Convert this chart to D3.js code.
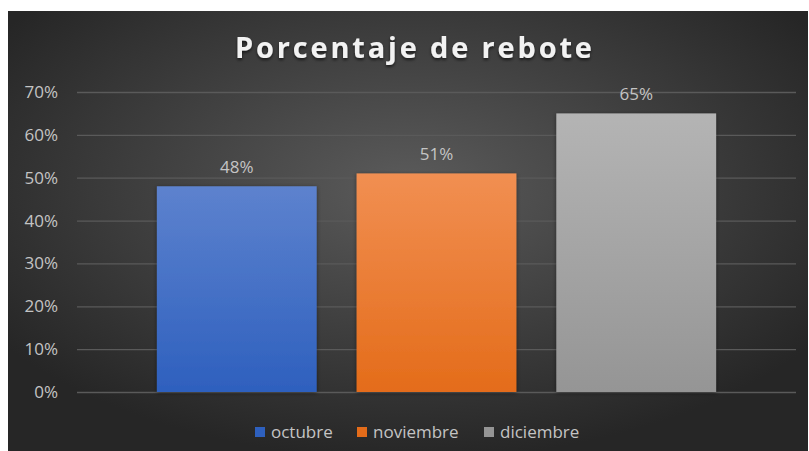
<!DOCTYPE html>
<html lang="es">
<head>
    <meta charset="UTF-8">
    <title>Porcentaje de rebote</title>
    <script src="https://d3js.org/d3.v7.min.js"></script>
    <style>
        html, body { margin: 0; padding: 0; background: #ffffff; }
        svg { display: block; }
    </style>
</head>
<body>
    <div id="chart"></div>
    <script>
        // Data
        const months = ["octubre", "noviembre", "diciembre"];
        const rates = [0.48, 0.51, 0.65];
        const yTicks = [0, 0.1, 0.2, 0.3, 0.4, 0.5, 0.6, 0.7];

        const width = 809;
        const height = 451;
        const frame = { x: 8, y: 11, w: 800, h: 440 };
        const plot = { left: 77, right: 796, top: 92, bottom: 392 };
        const font = "'Open Sans', 'DejaVu Sans', sans-serif";

        const svg = d3.select("#chart").append("svg")
            .attr("width", width)
            .attr("height", height);

        const defs = svg.append("defs");

        // background radial gradient
        const bg = defs.append("radialGradient")
            .attr("id", "bg")
            .attr("cx", "50%").attr("cy", "40%").attr("r", "62%");
        bg.append("stop").attr("offset", "0%").attr("stop-color", "#5b5b5b");
        bg.append("stop").attr("offset", "100%").attr("stop-color", "#262626");

        // bar fills, lighter at the top
        const fills = [
            { id: "g0", top: "#5d82ce", bottom: "#2e60be" },
            { id: "g1", top: "#f18f52", bottom: "#e46c1a" },
            { id: "g2", top: "#b4b4b4", bottom: "#959595" }
        ];
        fills.forEach(f => {
            const g = defs.append("linearGradient")
                .attr("id", f.id)
                .attr("x1", 0).attr("y1", 0).attr("x2", 0).attr("y2", 1);
            g.append("stop").attr("offset", "0%").attr("stop-color", f.top);
            g.append("stop").attr("offset", "100%").attr("stop-color", f.bottom);
        });

        const shadow = defs.append("filter").attr("id", "shadow")
            .attr("x", "-10%").attr("y", "-10%").attr("width", "120%").attr("height", "120%");
        shadow.append("feDropShadow")
            .attr("dx", 0).attr("dy", 1).attr("stdDeviation", 2)
            .attr("flood-color", "#000").attr("flood-opacity", 0.45);

        const titleShadow = defs.append("filter").attr("id", "tshadow")
            .attr("x", "-5%").attr("y", "-20%").attr("width", "110%").attr("height", "150%");
        titleShadow.append("feDropShadow")
            .attr("dx", 0).attr("dy", 2).attr("stdDeviation", 1.5)
            .attr("flood-color", "#000").attr("flood-opacity", 0.6);

        svg.append("rect")
            .attr("x", frame.x).attr("y", frame.y)
            .attr("width", frame.w).attr("height", frame.h)
            .attr("fill", "url(#bg)");

        // scales
        const x = d3.scaleBand()
            .domain(months)
            .range([plot.left, plot.right])
            .paddingInner(0.2)
            .paddingOuter(0.4);

        const y = d3.scaleLinear()
            .domain([0, 0.7])
            .range([plot.bottom, plot.top]);

        // gridlines
        svg.append("g")
            .selectAll("line")
            .data(yTicks)
            .join("line")
            .attr("x1", plot.left)
            .attr("x2", plot.right)
            .attr("y1", d => y(d) + 0.5)
            .attr("y2", d => y(d) + 0.5)
            .attr("stroke", "#5a5a5a")
            .attr("stroke-width", 1.3);

        // y axis labels
        const yAxis = svg.append("g")
            .attr("transform", `translate(${plot.left - 19},0)`)
            .call(d3.axisLeft(y).tickValues(yTicks).tickFormat(d3.format(".0%")).tickSize(0).tickPadding(0));
        yAxis.select(".domain").remove();
        yAxis.selectAll("text")
            .attr("fill", "#c4c4c4")
            .attr("font-family", font)
            .attr("font-size", 17);

        // bars
        svg.append("g")
            .selectAll("rect")
            .data(rates)
            .join("rect")
            .attr("x", (d, i) => x(months[i]))
            .attr("y", d => y(d))
            .attr("width", x.bandwidth())
            .attr("height", d => y(0) - y(d))
            .attr("fill", (d, i) => `url(#${fills[i].id})`)
            .attr("filter", "url(#shadow)");

        // data labels
        svg.append("g")
            .selectAll("text")
            .data(rates)
            .join("text")
            .attr("x", (d, i) => x(months[i]) + x.bandwidth() / 2)
            .attr("y", d => y(d) - 13)
            .attr("text-anchor", "middle")
            .attr("fill", "#c4c4c4")
            .attr("font-family", font)
            .attr("font-size", 17)
            .text(d => d3.format(".0%")(d));

        // title
        svg.append("text")
            .attr("x", 413.5)
            .attr("y", 58)
            .attr("text-anchor", "middle")
            .attr("fill", "#f2f2f2")
            .attr("font-family", font)
            .attr("font-weight", "bold")
            .attr("font-size", 29)
            .attr("textLength", 357)
            .attr("lengthAdjust", "spacing")
            .attr("filter", "url(#tshadow)")
            .text("Porcentaje de rebote");

        // legend
        const legendX = [255, 357, 484];
        const legend = svg.append("g")
            .selectAll("g")
            .data(months)
            .join("g")
            .attr("transform", (d, i) => `translate(${legendX[i]},427)`);
        legend.append("rect")
            .attr("width", 10).attr("height", 10)
            .attr("fill", (d, i) => fills[i].bottom);
        legend.append("text")
            .attr("x", 16)
            .attr("y", 10.5)
            .attr("fill", "#c4c4c4")
            .attr("font-family", font)
            .attr("font-size", 17)
            .text(d => d);
    </script>
</body>
</html>
